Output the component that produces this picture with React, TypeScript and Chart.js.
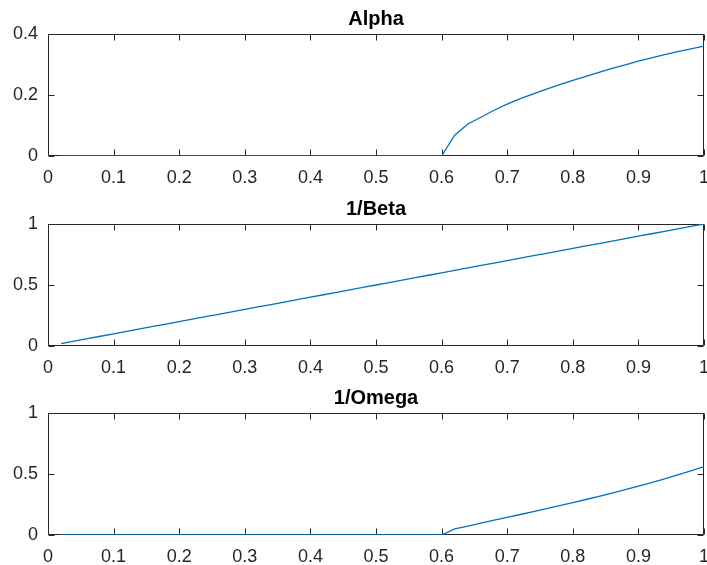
import React, { useEffect, useRef } from "react";
import { Chart, registerables } from "chart.js";

Chart.register(...registerables);

const xValues = [
  0.02, 0.04, 0.06, 0.08, 0.1, 0.12, 0.14, 0.16, 0.18, 0.2,
  0.22, 0.24, 0.26, 0.28, 0.3, 0.32, 0.34, 0.36, 0.38, 0.4,
  0.42, 0.44, 0.46, 0.48, 0.5, 0.52, 0.54, 0.56, 0.58, 0.6,
  0.62, 0.64, 0.66, 0.68, 0.7, 0.72, 0.74, 0.76, 0.78, 0.8,
  0.82, 0.84, 0.86, 0.88, 0.9, 0.92, 0.94, 0.96, 0.98, 1.0,
];

const alphaValues = [
  0, 0, 0, 0, 0, 0, 0, 0, 0, 0,
  0, 0, 0, 0, 0, 0, 0, 0, 0, 0,
  0, 0, 0, 0, 0, 0, 0, 0, 0, 0,
  0.068, 0.105, 0.127, 0.15, 0.17, 0.188, 0.204, 0.219, 0.234, 0.248,
  0.261, 0.274, 0.287, 0.299, 0.311, 0.322, 0.332, 0.342, 0.351, 0.36,
];

const invBetaValues = [
  0.02, 0.04, 0.06, 0.08, 0.1, 0.12, 0.14, 0.16, 0.18, 0.2,
  0.22, 0.24, 0.26, 0.28, 0.3, 0.32, 0.34, 0.36, 0.38, 0.4,
  0.42, 0.44, 0.46, 0.48, 0.5, 0.52, 0.54, 0.56, 0.58, 0.6,
  0.62, 0.64, 0.66, 0.68, 0.7, 0.72, 0.74, 0.76, 0.78, 0.8,
  0.82, 0.84, 0.86, 0.88, 0.9, 0.92, 0.94, 0.96, 0.98, 1.0,
];

const invOmegaValues = [
  0, 0, 0, 0, 0, 0, 0, 0, 0, 0,
  0, 0, 0, 0, 0, 0, 0, 0, 0, 0,
  0, 0, 0, 0, 0, 0, 0, 0, 0, 0,
  0.05, 0.073, 0.097, 0.121, 0.145, 0.168, 0.192, 0.216, 0.24, 0.265,
  0.291, 0.317, 0.344, 0.372, 0.4, 0.43, 0.461, 0.493, 0.526, 0.56,
];

const xTicks = [0, 0.1, 0.2, 0.3, 0.4, 0.5, 0.6, 0.7, 0.8, 0.9, 1];
const alphaTicks = [0, 0.2, 0.4];
const unitTicks = [0, 0.5, 1];

const FONT = "'Liberation Sans', Arial, sans-serif";
const AXIS_COLOR = "#262626";
const LINE_COLOR = "#0072BD";

const boxPlugin = {
  id: "matlabBox",
  beforeDatasetsDraw(chart: any) {
    const { ctx, chartArea, scales } = chart;
    const L = Math.round(chartArea.left) + 0.5;
    const R = Math.round(chartArea.right) - 0.5;
    const T = Math.round(chartArea.top) + 0.5;
    const B = Math.round(chartArea.bottom) - 0.5;
    const tl = 6;
    ctx.save();
    ctx.strokeStyle = AXIS_COLOR;
    ctx.lineWidth = 1;
    ctx.beginPath();
    ctx.rect(L, T, R - L, B - T);
    scales.x.ticks.forEach((t: any) => {
      const px = Math.round(scales.x.getPixelForValue(t.value)) + 0.5;
      ctx.moveTo(px, B);
      ctx.lineTo(px, B - tl);
      ctx.moveTo(px, T);
      ctx.lineTo(px, T + tl);
    });
    scales.y.ticks.forEach((t: any) => {
      const py = Math.round(scales.y.getPixelForValue(t.value)) + 0.5;
      ctx.moveTo(L, py);
      ctx.lineTo(L + tl, py);
      ctx.moveTo(R, py);
      ctx.lineTo(R - tl, py);
    });
    ctx.stroke();
    ctx.restore();
  },
};

function Subplot(props: { title: string; values: number[]; yTicks: number[]; top: number }) {
  const ref = useRef<HTMLCanvasElement | null>(null);
  useEffect(() => {
    if (!ref.current) return;
    const yMax = props.yTicks[props.yTicks.length - 1];
    const chart = new Chart(ref.current, {
      type: "scatter",
      data: {
        datasets: [
          {
            data: xValues.map((x, i) => ({ x, y: props.values[i] })),
            showLine: true,
            borderColor: LINE_COLOR,
            backgroundColor: LINE_COLOR,
            borderWidth: 1.3,
            pointRadius: 0,
            tension: 0,
          },
        ],
      },
      options: {
        animation: false,
        responsive: false,
        maintainAspectRatio: false,
        layout: { padding: { left: 0, right: 3, top: 0, bottom: 0 } },
        plugins: {
          legend: { display: false },
          tooltip: { enabled: false },
          title: {
            display: true,
            fullSize: false,
            text: props.title,
            color: "#000000",
            font: { family: FONT, size: 20, weight: "bold" },
            padding: { top: 7, bottom: 3 },
          },
        },
        scales: {
          x: {
            type: "linear",
            min: 0,
            max: 1,
            grid: { display: false, drawTicks: false },
            border: { display: false },
            afterBuildTicks: (scale: any) => {
              scale.ticks = xTicks.map((v) => ({ value: v }));
            },
            afterFit: (scale: any) => {
              scale.height = 30;
              scale.paddingLeft = 0;
              scale.paddingRight = 0;
            },
            ticks: {
              autoSkip: false,
              maxRotation: 0,
              padding: 11,
              color: AXIS_COLOR,
              font: { family: FONT, size: 18 },
              callback: (v: any) => String(Number(v)),
            },
          },
          y: {
            type: "linear",
            min: 0,
            max: yMax,
            grid: { display: false, drawTicks: false },
            border: { display: false },
            afterBuildTicks: (scale: any) => {
              scale.ticks = props.yTicks.map((v) => ({ value: v }));
            },
            afterFit: (scale: any) => {
              scale.width = 48;
              scale.paddingTop = 0;
              scale.paddingBottom = 0;
            },
            ticks: {
              padding: 10,
              color: AXIS_COLOR,
              font: { family: FONT, size: 18 },
              callback: (v: any) => String(Number(v)),
            },
          },
        },
      },
      plugins: [boxPlugin],
    } as any);
    return () => chart.destroy();
  }, []);
  return (
    <canvas
      ref={ref}
      width={707}
      height={186}
      style={{ position: "absolute", left: 0, top: props.top, width: 707, height: 186 }}
    />
  );
}

export default function App() {
  return (
    <div style={{ position: "absolute", left: 0, top: 0, width: 707, height: 565, background: "#ffffff", overflow: "hidden" }}>
      <Subplot title="Alpha" values={alphaValues} yTicks={alphaTicks} top={0} />
      <Subplot title="1/Beta" values={invBetaValues} yTicks={unitTicks} top={190} />
      <Subplot title="1/Omega" values={invOmegaValues} yTicks={unitTicks} top={379} />
    </div>
  );
}
